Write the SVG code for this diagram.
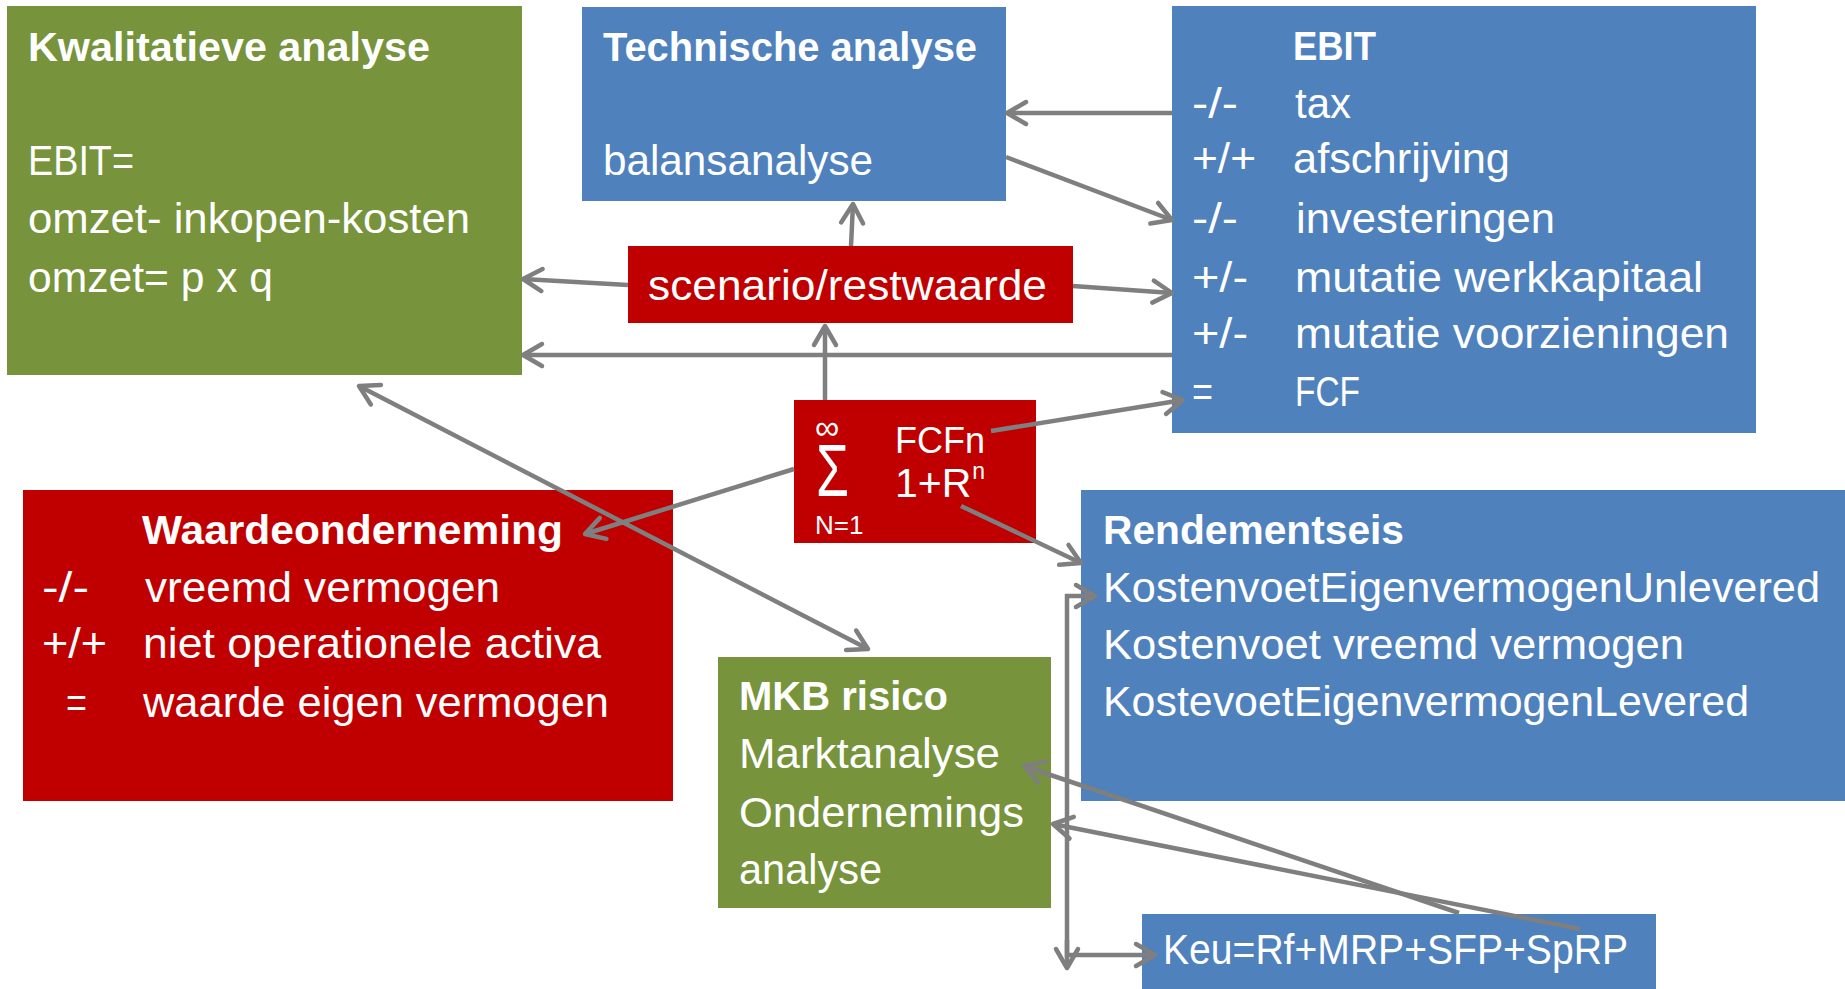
<svg xmlns="http://www.w3.org/2000/svg" width="1845" height="989" viewBox="0 0 1845 989">
<style>
.t{font-family:"Liberation Sans",Arial,sans-serif;fill:#ffffff;font-size:42px}
.b{font-weight:bold;font-size:41px}
.green{fill:#77933C}
.blue{fill:#4F81BD}
.red{fill:#C00000}
.c{fill:none;stroke:#7F7F7F;stroke-width:4.5}
</style>
<defs>
<marker id="ah" viewBox="0 0 26 26" refX="22" refY="13" markerWidth="26" markerHeight="26" markerUnits="userSpaceOnUse" orient="auto-start-reverse" overflow="visible">
<path d="M3,2 L22,13 L3,24" fill="none" stroke="#7F7F7F" stroke-width="4.5" stroke-linecap="round" stroke-linejoin="round"/>
</marker>
</defs>
<rect width="1845" height="989" fill="#ffffff"/>

<g id="kwalitatieve">
<rect class="green" x="7" y="6" width="515" height="369"/>
<text class="t b" x="28" y="61" textLength="402" lengthAdjust="spacingAndGlyphs">Kwalitatieve analyse</text>
<text class="t" x="28" y="175" textLength="106" lengthAdjust="spacingAndGlyphs">EBIT=</text>
<text class="t" x="28" y="233" textLength="442" lengthAdjust="spacingAndGlyphs">omzet- inkopen-kosten</text>
<text class="t" x="28" y="292" textLength="245" lengthAdjust="spacingAndGlyphs">omzet= p x q</text>
</g>

<g id="technische">
<rect class="blue" x="582" y="7" width="424" height="194"/>
<text class="t b" x="603" y="61" textLength="374" lengthAdjust="spacingAndGlyphs">Technische analyse</text>
<text class="t" x="603" y="175" textLength="270" lengthAdjust="spacingAndGlyphs">balansanalyse</text>
</g>

<g id="scenario">
<rect class="red" x="628" y="246" width="445" height="77"/>
<text class="t" x="648" y="300" textLength="399" lengthAdjust="spacingAndGlyphs">scenario/restwaarde</text>
</g>

<g id="ebit">
<rect class="blue" x="1172" y="6" width="584" height="427"/>
<text class="t b" x="1293" y="60" textLength="83" lengthAdjust="spacingAndGlyphs">EBIT</text>
<text class="t" x="1192" y="118" textLength="46" lengthAdjust="spacingAndGlyphs">-/-</text>
<text class="t" x="1295" y="118" textLength="56" lengthAdjust="spacingAndGlyphs">tax</text>
<text class="t" x="1192" y="173" textLength="64" lengthAdjust="spacingAndGlyphs">+/+</text>
<text class="t" x="1293" y="173" textLength="217" lengthAdjust="spacingAndGlyphs">afschrijving</text>
<text class="t" x="1192" y="233" textLength="46" lengthAdjust="spacingAndGlyphs">-/-</text>
<text class="t" x="1296" y="233" textLength="259" lengthAdjust="spacingAndGlyphs">investeringen</text>
<text class="t" x="1192" y="292" textLength="56" lengthAdjust="spacingAndGlyphs">+/-</text>
<text class="t" x="1295" y="292" textLength="408" lengthAdjust="spacingAndGlyphs">mutatie werkkapitaal</text>
<text class="t" x="1192" y="348" textLength="56" lengthAdjust="spacingAndGlyphs">+/-</text>
<text class="t" x="1295" y="348" textLength="434" lengthAdjust="spacingAndGlyphs">mutatie voorzieningen</text>
<text class="t" x="1192" y="406" textLength="21" lengthAdjust="spacingAndGlyphs">=</text>
<text class="t" x="1295" y="406" textLength="65" lengthAdjust="spacingAndGlyphs">FCF</text>
</g>

<g id="sigma">
<rect class="red" x="794" y="400" width="242" height="143"/>
<text class="t"><tspan x="815" y="439" style="font-size:34px">∞</tspan><tspan x="816" y="496" style="font-size:74px" textLength="33" lengthAdjust="spacingAndGlyphs">Σ</tspan><tspan x="815" y="534" style="font-size:26px">N=1</tspan></text>
<text class="t"><tspan x="895" y="453" style="font-size:36px">FCFn</tspan><tspan x="895" y="497" style="font-size:41px">1+R</tspan><tspan dx="1" y="479" style="font-size:23px">n</tspan></text>
</g>

<g id="waardeonderneming">
<rect class="red" x="23" y="490" width="650" height="311"/>
<text class="t b" x="142" y="544" textLength="421" lengthAdjust="spacingAndGlyphs">Waardeonderneming</text>
<text class="t" x="42" y="602" textLength="47" lengthAdjust="spacingAndGlyphs">-/-</text>
<text class="t" x="145" y="602" textLength="355" lengthAdjust="spacingAndGlyphs">vreemd vermogen</text>
<text class="t" x="42" y="658" textLength="65" lengthAdjust="spacingAndGlyphs">+/+</text>
<text class="t" x="143" y="658" textLength="458" lengthAdjust="spacingAndGlyphs">niet operationele activa</text>
<text class="t" x="66" y="717" textLength="21" lengthAdjust="spacingAndGlyphs">=</text>
<text class="t" x="143" y="717" textLength="466" lengthAdjust="spacingAndGlyphs">waarde eigen vermogen</text>
</g>

<g id="mkb">
<rect class="green" x="718" y="657" width="333" height="251"/>
<text class="t b" x="739" y="710" textLength="209" lengthAdjust="spacingAndGlyphs">MKB risico</text>
<text class="t" x="739" y="768" textLength="261" lengthAdjust="spacingAndGlyphs">Marktanalyse</text>
<text class="t" x="739" y="827" textLength="285" lengthAdjust="spacingAndGlyphs">Ondernemings</text>
<text class="t" x="739" y="884" textLength="143" lengthAdjust="spacingAndGlyphs">analyse</text>
</g>

<g id="rendementseis">
<rect class="blue" x="1081" y="490" width="764" height="311"/>
<text class="t b" x="1103" y="544" textLength="301" lengthAdjust="spacingAndGlyphs">Rendementseis</text>
<text class="t" x="1103" y="602" textLength="717" lengthAdjust="spacingAndGlyphs">KostenvoetEigenvermogenUnlevered</text>
<text class="t" x="1103" y="659" textLength="581" lengthAdjust="spacingAndGlyphs">Kostenvoet vreemd vermogen</text>
<text class="t" x="1103" y="716" textLength="646" lengthAdjust="spacingAndGlyphs">KostevoetEigenvermogenLevered</text>
</g>

<g id="keu">
<rect class="blue" x="1142" y="914" width="514" height="75"/>
<text class="t" x="1163" y="964" textLength="465" lengthAdjust="spacingAndGlyphs">Keu=Rf+MRP+SFP+SpRP</text>
</g>

<g id="connectors">
<path class="c" d="M1172,113 L1007,113" marker-end="url(#ah)"/>
<path class="c" d="M1006,157 L1172,220" marker-end="url(#ah)"/>
<path class="c" d="M851,246 L853,204" marker-end="url(#ah)"/>
<path class="c" d="M1073,286 L1172,293" marker-end="url(#ah)"/>
<path class="c" d="M628,285 L523,279" marker-end="url(#ah)"/>
<path class="c" d="M1172,355 L523,355" marker-end="url(#ah)"/>
<path class="c" d="M825,400 L825,326" marker-end="url(#ah)"/>
<path class="c" d="M794,469 L585,534" marker-end="url(#ah)"/>
<path class="c" d="M359,386 L868,649" marker-start="url(#ah)" marker-end="url(#ah)"/>
<path class="c" d="M991,431 L1183,400" marker-end="url(#ah)"/>
<path class="c" d="M961,506 L1081,563" marker-end="url(#ah)"/>
<path class="c" d="M1459,913 L1024,766" marker-end="url(#ah)"/>
<path class="c" d="M1580,929 L1053,824" marker-end="url(#ah)"/>
<path class="c" d="M1095,596 L1067,596 L1067,955 L1155,955" marker-start="url(#ah)" marker-end="url(#ah)"/>
<path class="c" d="M1067,940 L1067,968" marker-end="url(#ah)"/>
</g>
</svg>
